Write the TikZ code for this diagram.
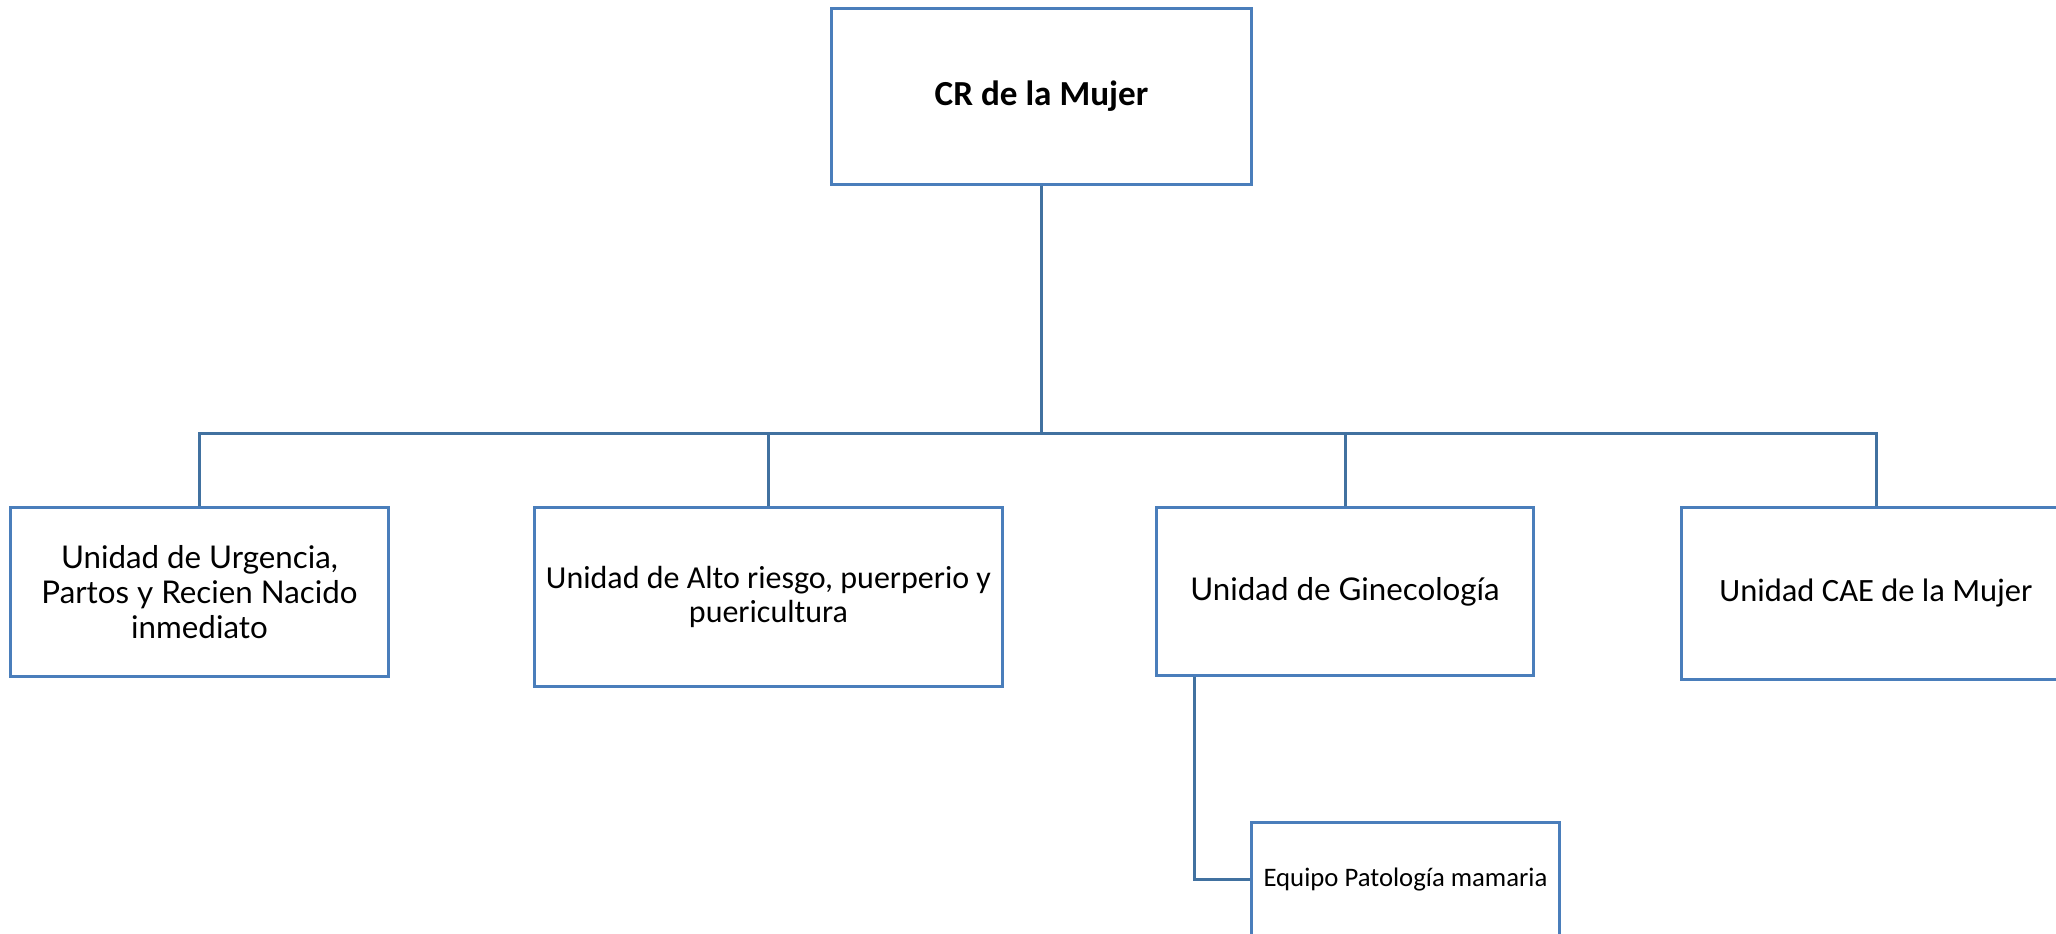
\documentclass[tikz,border=0pt]{standalone}
\usepackage{fontspec}
\setmainfont{Carlito}
\newfontfamily\aptos{Lato}
\usepackage{tikz}

\definecolor{boxblue}{RGB}{74,126,187}
\definecolor{lineblue}{RGB}{65,113,160}

\begin{document}
\begin{tikzpicture}[x=0.01cm, y=-0.01cm,
    unit/.style={draw=boxblue, line width=0.85pt, rectangle, align=center, text=black},
    link/.style={draw=lineblue, line width=0.85pt}]

  \useasboundingbox (0,0) rectangle (2056,934);

  % Top box
  \node[unit, minimum width=4.19cm, minimum height=1.75cm, font=\fontsize{10}{12}\selectfont\bfseries] (CR) at (1041.5,96.5) {CR de la Mujer};

  % Units
  \node[unit, minimum width=3.77cm, minimum height=1.68cm, font=\aptos\fontsize{8.9}{10}\selectfont] (U) at (199.5,592) {Unidad de Urgencia,\\Partos y Recien Nacido\\inmediato};
  \node[unit, minimum width=4.67cm, minimum height=1.78cm, font=\fontsize{9.1}{9.8}\selectfont] (A) at (768.5,597) {Unidad de Alto riesgo, puerperio y\\puericultura};
  \node[unit, minimum width=3.76cm, minimum height=1.67cm, font=\aptos\fontsize{8.9}{10}\selectfont] (G) at (1345,591.5) {Unidad de Ginecología};
  \node[unit, minimum width=3.88cm, minimum height=1.71cm, font=\fontsize{9.25}{10}\selectfont] (C) at (1876,593.5) {Unidad CAE de la Mujer};

  % Team below Ginecologia
  \node[unit, minimum width=3.07cm, minimum height=1.14cm, font=\fontsize{7.6}{9}\selectfont] (E) at (1405.5,880) {Equipo Patología mamaria};

  % Connectors
  \coordinate (bar) at (0,434);
  \draw[link] (CR.south) -- (CR.south |- bar);
  \draw[link] (U.north) -- (U.north |- bar) -- (C.north |- bar) -- (C.north);
  \draw[link] (A.north) -- (A.north |- bar);
  \draw[link] (G.north) -- (G.north |- bar);
  \draw[link] (G.south -| 1194,0) |- (E.west);

\end{tikzpicture}
\end{document}
